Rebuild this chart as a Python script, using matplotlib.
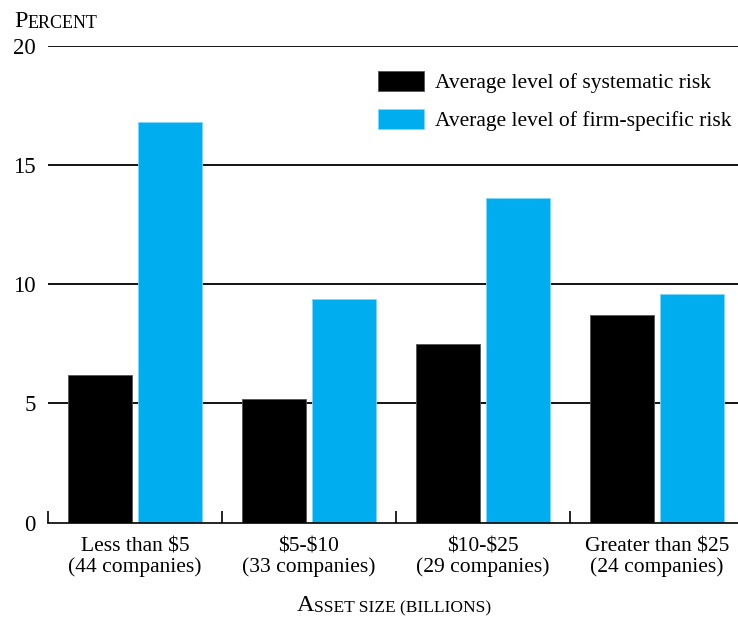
"""Bar chart: average systematic vs firm-specific risk by asset size."""

import matplotlib
matplotlib.use("Agg")
import matplotlib.pyplot as plt
import numpy as np

categories = ["Less than \\$5\n(44 companies)", "\\$5-\\$10\n(33 companies)",
              "\\$10-\\$25\n(29 companies)", "Greater than \\$25\n(24 companies)"]
systematic = [6.2, 5.2, 7.5, 8.7]
firm_specific = [16.8, 9.4, 13.6, 9.6]
series_labels = ["Average level of systematic risk",
                 "Average level of firm-specific risk"]
y_ticks = [0, 5, 10, 15, 20]

BLUE = "#00aeef"
plt.rcParams["font.family"] = ["Liberation Serif", "DejaVu Serif"]

fig = plt.figure(figsize=(7.38, 6.17), dpi=100)
ax = fig.add_axes([48 / 738, 94.3 / 617, 690 / 738, 477 / 617])

x = np.arange(len(categories))
w = 0.368
off = 0.201
ax.bar(x - off, systematic, w, color="black", edgecolor="#555555", linewidth=0.6,
       label=series_labels[0])
ax.bar(x + off, firm_specific, w, color=BLUE, edgecolor="#7fd6f7", linewidth=0.6,
       label=series_labels[1])

ax.set_xlim(-0.5, 3.466)
ax.set_ylim(0, 20)
for s in ["top", "right", "left"]:
    ax.spines[s].set_visible(False)
ax.spines["bottom"].set_linewidth(1.2)

for v in y_ticks[1:]:
    ax.axhline(v, color="black", linewidth=1.3, zorder=0)
ax.set_yticks(y_ticks)
ax.tick_params(axis="y", length=0, pad=9, labelsize=16.5)

# category boundary ticks pointing up
ax.set_xticks(np.arange(-0.5, 3.0, 1.0))
ax.set_xticklabels([])
ax.tick_params(axis="x", direction="in", length=9, width=1.2)
for i, lab in enumerate(categories):
    ax.text(i, -0.62, lab, ha="center", va="top", fontsize=15.5,
            linespacing=1.05, transform=ax.transData)

fs = 15.5 * 100 / 72
leg = fig.legend(loc="upper left", bbox_to_anchor=(378 / 738, 1 - 71 / 617),
                 frameon=False, fontsize=15.5, handlelength=46 / fs,
                 handleheight=23 / fs, handletextpad=0.5, labelspacing=0.7,
                 borderpad=0, borderaxespad=0)

# small-caps style titles
p = fig.text(14 / 738, 1 - 27 / 617, "P", fontsize=17.5, va="baseline")
ax.annotate("ERCENT", xy=(1, 0), xycoords=p, va="bottom", fontsize=13,
            annotation_clip=False)

a = fig.text(297 / 738, 1 - 611 / 617, "A", fontsize=17.5, va="baseline")
ax.annotate("SSET SIZE (BILLIONS)", xy=(1, 0), xycoords=a, va="bottom",
            fontsize=12.5, annotation_clip=False)

fig.savefig("out.png", dpi=100)
